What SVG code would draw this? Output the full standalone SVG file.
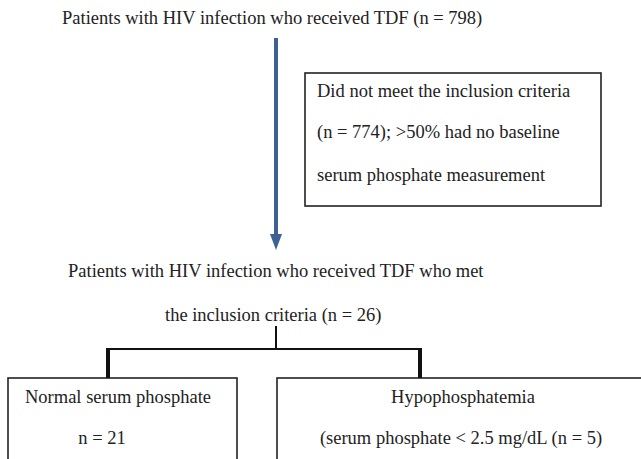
<svg xmlns="http://www.w3.org/2000/svg" width="641" height="459" viewBox="0 0 641 459">
<style>
text{font-family:"Liberation Serif","Times New Roman",serif;font-size:18.5px;fill:#222}
.box{fill:#fff;stroke:#222;stroke-width:1.6}
.ln{stroke:#111;fill:none}
</style>
<defs>
<marker id="ah" markerWidth="4" markerHeight="3" refX="1" refY="1.5" orient="auto" markerUnits="strokeWidth">
<path d="M0,0 L4,1.5 L0,3 Z" fill="#3d6193"/>
</marker>
</defs>
<rect width="641" height="459" fill="#fff"/>
<g id="n1"><text x="62" y="24">Patients with HIV infection who received TDF (n = 798)</text></g>
<g id="n2">
<rect class="box" x="305" y="73" width="296" height="133"/>
<text x="317" y="97">Did not meet the inclusion criteria</text>
<text x="317" y="138">(n = 774); &gt;50% had no baseline</text>
<text x="317" y="181">serum phosphate measurement</text>
</g>
<g id="n3">
<text x="68" y="277">Patients with HIV infection who received TDF who met</text>
<text x="165" y="321">the inclusion criteria (n = 26)</text>
</g>
<g id="n4">
<rect class="box" x="8" y="378" width="229" height="100"/>
<text x="118" y="403" text-anchor="middle">Normal serum phosphate</text>
<text x="102" y="444" text-anchor="middle">n = 21</text>
</g>
<g id="n5">
<rect class="box" x="277" y="378" width="380" height="100"/>
<text x="463" y="403" text-anchor="middle">Hypophosphatemia</text>
<text x="461" y="444" text-anchor="middle">(serum phosphate &lt; 2.5 mg/dL (n = 5)</text>
</g>
<g id="connectors">
<line x1="276" y1="38" x2="276" y2="238" stroke="#3d6193" stroke-width="4" marker-end="url(#ah)"/>
<line class="ln" x1="276" y1="326" x2="276" y2="349" stroke-width="2"/>
<line class="ln" x1="106" y1="349" x2="422" y2="349" stroke-width="2.2"/>
<line class="ln" x1="108" y1="348" x2="108" y2="378" stroke-width="4"/>
<line class="ln" x1="420" y1="348" x2="420" y2="378" stroke-width="4"/>
</g>
</svg>
